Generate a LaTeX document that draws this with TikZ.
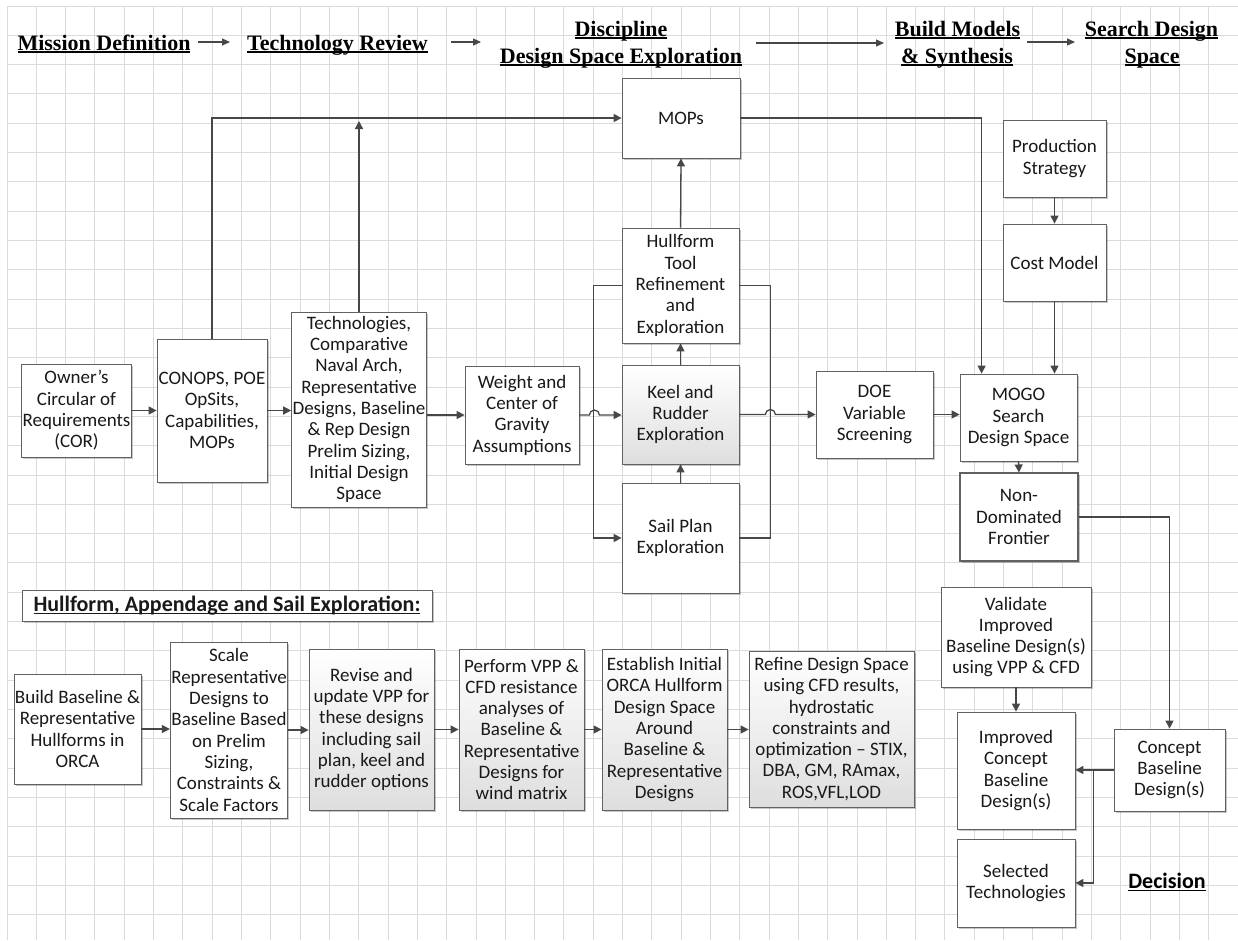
\documentclass[tikz,border=0pt]{standalone}
\usepackage{fontspec}
\setmainfont{Carlito}
\newfontfamily\hdrfont{Liberation Serif}
\usetikzlibrary{arrows.meta,shadows}
\newcommand{\ulhdr}[1]{\setbox0\hbox{#1}\rlap{\vrule height -1.2pt depth 3pt width \wd0}\box0}
\newcommand{\ulbox}[1]{\setbox0\hbox{#1}\rlap{\vrule height -1.5pt depth 3pt width \wd0}\box0}

\begin{document}
\begin{tikzpicture}[
    x=1pt, y=-1pt,
    gridline/.style={draw=black!14, line width=0.9pt},
    box/.style={draw=black!62, fill=white, line width=0.8pt, align=center,
      inner sep=1pt, text=black!90, font=\fontsize{19}{21.3}\selectfont,
      drop shadow={shadow xshift=1.6pt, shadow yshift=-1.6pt, fill=black, opacity=0.22}},
    shadebox/.style={box, top color=white, bottom color=black!13},
    flow/.style={draw=black!72, line width=1.3pt, -{Triangle[length=8pt,width=8pt]}},
    link/.style={draw=black!72, line width=1.3pt},
    hdr/.style={font=\hdrfont\bfseries\fontsize{22}{26}\selectfont, anchor=base, inner sep=0pt},
    hdrarrow/.style={draw=black!72, line width=1.2pt, -{Triangle[length=8pt,width=7pt]}}]
  \useasboundingbox (0,0) rectangle (1238,940);
  \fill[white] (0,0) rectangle (1238,940);
  \foreach \i in {0,...,42}
    \draw[gridline] (7+\i*29.31,6) -- (7+\i*29.31,940);
  \foreach \j in {0,...,31}
    \draw[gridline] (7,6+\j*29.31) -- (1238,6+\j*29.31);

  % phase headings
  \node[hdr] (mission) at (104,50) {\ulhdr{Mission Definition}};
  \node[hdr] (techrev) at (337.5,50) {\ulhdr{Technology Review}};
  \node[hdr] (discA) at (621,36) {\ulhdr{Discipline}};
  \node[hdr] (discB) at (621,63) {\ulhdr{Design Space Exploration}};
  \node[hdr] (buildA) at (957.5,36) {\ulhdr{Build Models}};
  \node[hdr] (buildB) at (957,63) {\ulhdr{\& Synthesis}};
  \node[hdr] (searchA) at (1151.5,36) {\ulhdr{Search Design}};
  \node[hdr] (searchB) at (1152,63) {\ulhdr{Space}};
  \coordinate (h1a) at (198,42);
  \coordinate (h1b) at (230,42);
  \coordinate (h2a) at (451,42);
  \coordinate (h2b) at (481,42);
  \coordinate (h3a) at (756,43);
  \coordinate (h3b) at (884,43);
  \coordinate (h4a) at (1027,42);
  \coordinate (h4b) at (1075,42);
  \draw[hdrarrow] (h1a) -- (h1b);
  \draw[hdrarrow] (h2a) -- (h2b);
  \draw[hdrarrow] (h3a) -- (h3b);
  \draw[hdrarrow] (h4a) -- (h4b);

  % top flow
  \node[box, minimum width=109pt, minimum height=93pt] (owner) at (76.5,410.5)
    {Owner’s\\Circular of\\Requirements\\(COR)};
  \node[box, minimum width=110pt, minimum height=143pt] (conops) at (212,410.5)
    {CONOPS, POE\\OpSits,\\Capabilities,\\MOPs};
  \node[box, minimum width=132pt, minimum height=195pt] (tech) at (359,409.5)
    {Technologies,\\Comparative\\Naval Arch,\\Representative\\Designs, Baseline\\\& Rep Design\\Prelim Sizing,\\Initial Design\\Space};
  \node[box, minimum width=114pt, minimum height=98pt] (weight) at (522,415)
    {Weight and\\Center of\\Gravity\\Assumptions};
  \node[box, minimum width=117pt, minimum height=115pt] (hull) at (680.5,285.5)
    {Hullform\\Tool\\Refinement\\and\\Exploration};
  \node[shadebox, minimum width=117pt, minimum height=99pt] (keel) at (680.5,414.5)
    {Keel and\\Rudder\\Exploration};
  \node[box, minimum width=117pt, minimum height=110pt] (sail) at (680.5,538)
    {Sail Plan\\Exploration};
  \node[box, minimum width=118pt, minimum height=80pt] (mops) at (681,118) {MOPs};
  \node[box, minimum width=117pt, minimum height=87pt] (doe) at (874.5,414.5)
    {DOE\\Variable\\Screening};
  \node[box, minimum width=117pt, minimum height=87pt] (mogo) at (1018.5,417.5)
    {MOGO\\Search\\Design Space};
  \node[box, minimum width=118pt, minimum height=88pt, line width=1.1pt] (ndf) at (1019,517)
    {Non-\\Dominated\\Frontier};
  \node[box, minimum width=103pt, minimum height=77pt] (prod) at (1054.5,158.5)
    {Production\\Strategy};
  \node[box, minimum width=103pt, minimum height=77pt] (cost) at (1054.5,262.5) {Cost Model};

  \draw[flow] (owner.east) -- (owner.east -| conops.west);
  \draw[flow] (conops.east) -- (conops.east -| tech.west);
  \draw[flow] (weight.west -| tech.east) -- (weight.west);
  \draw[flow] (conops.north) |- (mops.west);
  \draw[flow, shorten >=3pt] (tech.north) -- (tech.north |- mops.west);
  \draw[flow] (weight.east) -- ++(10,0) arc[start angle=180, end angle=360, radius=5]
    -- (keel.west |- weight.east);
  \draw[flow] (hull.west) -- ++(-28,0) |- (sail.west);
  \draw[link] (hull.east) -- ++(31,0) |- (sail.east);
  \draw[flow] (keel.east) -- ++(26,0) arc[start angle=180, end angle=360, radius=5]
    -- (keel.east -| doe.west);
  \draw[flow] (keel.north) -- (hull.south);
  \draw[flow] (sail.north) -- (keel.south);
  \draw[flow] (hull.north) -- (mops.south);
  \draw[flow] (mops.east) -| ([xshift=22pt]mogo.north west);
  \draw[flow] (doe.east) -- (doe.east -| mogo.west);
  \draw[flow] (prod.south) -- (cost.north);
  \draw[flow] (cost.south) -- (cost.south |- mogo.north);
  \draw[flow] (mogo.south) -- (ndf.north);

  % hullform, appendage and sail exploration
  \node[box, minimum width=410pt, minimum height=31pt,
    font=\bfseries\fontsize{22}{24}\selectfont] (hullhdr) at (227,605.5)
    {\ulbox{Hullform, Appendage and Sail Exploration:}};
  \node[box, minimum width=127pt, minimum height=110pt] (build) at (77.5,729)
    {Build Baseline \&\\Representative\\Hullforms in\\ORCA};
  \node[box, minimum width=116pt, minimum height=176pt] (scale) at (229,730)
    {Scale\\Representative\\Designs to\\Baseline Based\\on Prelim\\Sizing,\\Constraints \&\\Scale Factors};
  \node[shadebox, minimum width=125pt, minimum height=161pt] (revise) at (371.5,729.5)
    {Revise and\\update VPP for\\these designs\\including sail\\plan, keel and\\rudder options};
  \node[shadebox, minimum width=125pt, minimum height=161pt] (perform) at (521.5,729.5)
    {Perform VPP \&\\CFD resistance\\analyses of\\Baseline \&\\Representative\\Designs for\\wind matrix};
  \node[shadebox, minimum width=125pt, minimum height=161pt] (establish) at (664.5,729.5)
    {Establish Initial\\ORCA Hullform\\Design Space\\Around\\Baseline \&\\Representative\\Designs};
  \node[shadebox, minimum width=165pt, minimum height=156pt] (refine) at (831.5,729)
    {Refine Design Space\\using CFD results,\\hydrostatic\\constraints and\\optimization -- STIX,\\DBA, GM, RAmax,\\ROS,VFL,LOD};

  \draw[flow] (build.east) -- (build.east -| scale.west);
  \draw[flow] (scale.east) -- (scale.east -| revise.west);
  \draw[flow] (revise.east) -- (revise.east -| perform.west);
  \draw[flow] (perform.east) -- (perform.east -| establish.west);
  \draw[flow] (establish.east) -- (establish.east -| refine.west);

  % decision
  \node[box, minimum width=150pt, minimum height=100pt] (validate) at (1016,637)
    {Validate\\Improved\\Baseline Design(s)\\using VPP \& CFD};
  \node[box, minimum width=118pt, minimum height=117pt] (improved) at (1016,770.5)
    {Improved\\Concept\\Baseline\\Design(s)};
  \node[box, minimum width=118pt, minimum height=88pt] (selected) at (1016,883)
    {Selected\\Technologies};
  \node[box, minimum width=111pt, minimum height=82pt] (concept) at (1169.5,770)
    {Concept\\Baseline\\Design(s)};
  \node[anchor=base, inner sep=0pt, font=\bfseries\fontsize{22}{24}\selectfont] (decision)
    at (1167,888) {\ulbox{Decision}};

  \draw[flow] (ndf.east) -| (concept.north);
  \draw[flow] (validate.south) -- (improved.north);
  \draw[flow] (concept.west) -- (concept.west -| improved.east);
  \draw[flow] ([xshift=-20pt]concept.west) |- (selected.east);
\end{tikzpicture}
\end{document}
